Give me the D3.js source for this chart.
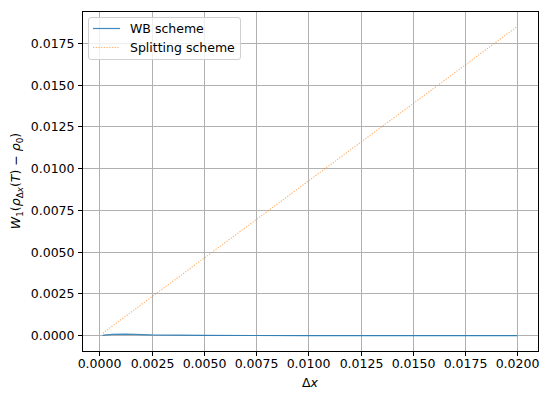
<!DOCTYPE html>
<html>
<head>
<meta charset="utf-8">
<script src="https://cdn.jsdelivr.net/npm/d3@7"></script>
<style>
  html, body { margin: 0; padding: 0; background: #fff; }
  svg { display: block; font-family: "DejaVu Sans", sans-serif; }
</style>
</head>
<body>
<svg id="chart" width="550" height="393"></svg>
<script>
// ---- data ----
const dx = [0.00015625, 0.0003125, 0.000625, 0.00125, 0.0025, 0.005, 0.01, 0.02];
const wbScheme = [0.00001, 0.00004, 0.00007, 0.00009, 0.00004, 0.00001, 0.000005, 0.000004];
const splittingScheme = [0.000145, 0.00029, 0.00058, 0.00116, 0.00232, 0.00463, 0.00926, 0.01852];
const xTicks = [0, 0.0025, 0.005, 0.0075, 0.01, 0.0125, 0.015, 0.0175, 0.02];
const yTicks = [0, 0.0025, 0.005, 0.0075, 0.01, 0.0125, 0.015, 0.0175];
const seriesNames = ["WB scheme", "Splitting scheme"];
const seriesColors = ["#1f77b4", "#ff7f0e"];

const svg = d3.select("#chart");
const L = 82, R = 538, T = 11, B = 351;
const FS = 12.5;

function padDomain(vals) {
  const mn = d3.min(vals), mx = d3.max(vals), m = (mx - mn) * 0.05;
  return [mn - m, mx + m];
}
const x = d3.scaleLinear().domain(padDomain(dx)).range([L, R]);
const y = d3.scaleLinear().domain(padDomain(wbScheme.concat(splittingScheme))).range([B, T]);

const px = v => Math.round(v) + 0.5;
const py = v => Math.floor(v) + 0.5;

// grid
const g = svg.append("g");
g.selectAll(".gx").data(xTicks).enter().append("line")
  .attr("x1", d => px(x(d))).attr("x2", d => px(x(d)))
  .attr("y1", T).attr("y2", B)
  .attr("stroke", "#b0b0b0").attr("stroke-width", 1);
g.selectAll(".gy").data(yTicks).enter().append("line")
  .attr("y1", d => py(y(d))).attr("y2", d => py(y(d)))
  .attr("x1", L).attr("x2", R)
  .attr("stroke", "#b0b0b0").attr("stroke-width", 1);

// lines
const line = d3.line().x((d, i) => x(dx[i])).y(d => y(d));
svg.append("path").datum(wbScheme)
  .attr("d", line).attr("fill", "none")
  .attr("stroke", seriesColors[0]).attr("stroke-width", 1.2).attr("stroke-opacity", 0.85);
svg.append("path").datum(splittingScheme)
  .attr("d", line).attr("fill", "none")
  .attr("stroke", seriesColors[1]).attr("stroke-width", 1.1).attr("stroke-opacity", 0.6)
  .attr("stroke-dasharray", "1.3,1.4");

// axes
const xAxis = d3.axisBottom(x).tickValues(xTicks).tickFormat(d3.format(".4f")).tickSize(4.5).tickPadding(3);
const yAxis = d3.axisLeft(y).tickValues(yTicks).tickFormat(d3.format(".4f")).tickSize(4.5).tickPadding(3.5);
const gx = svg.append("g").attr("transform", `translate(0,${B + 0.5})`).call(xAxis);
const gy = svg.append("g").attr("transform", `translate(${L + 0.5},0)`).call(yAxis);
[gx, gy].forEach(a => {
  a.select(".domain").remove();
  a.selectAll("text").attr("font-size", FS).attr("font-family", "DejaVu Sans").attr("fill", "#000");
  a.selectAll("line").attr("stroke", "#000").attr("stroke-width", 1);
});
gx.selectAll(".tick").attr("transform", d => `translate(${px(x(d))},0)`);
gy.selectAll(".tick").attr("transform", d => `translate(0,${py(y(d))})`);

// frame
svg.append("rect").attr("x", L + 0.5).attr("y", T + 0.5).attr("width", R - L).attr("height", B - T)
  .attr("fill", "none").attr("stroke", "#000").attr("stroke-width", 1);

// x label
svg.append("text").attr("x", (L + R) / 2).attr("y", 387).attr("text-anchor", "middle")
  .attr("font-size", FS)
  .call(t => { t.append("tspan").text("Δ"); t.append("tspan").attr("font-style", "italic").text("x"); });

// y label
const yl = svg.append("text").attr("transform", `translate(20,${(T + B) / 2}) rotate(-90)`)
  .attr("text-anchor", "middle").attr("font-size", FS);
yl.append("tspan").attr("font-style", "italic").text("W");
yl.append("tspan").attr("font-size", 8.8).attr("dy", 2.5).text("1");
yl.append("tspan").attr("dy", -2.5).text("(");
yl.append("tspan").attr("font-style", "italic").text("ρ");
yl.append("tspan").attr("font-size", 8.8).attr("dy", 2.5).text("Δ");
yl.append("tspan").attr("font-size", 8.8).attr("font-style", "italic").text("x");
yl.append("tspan").attr("dy", -2.5).text("(");
yl.append("tspan").attr("font-style", "italic").text("T");
yl.append("tspan").text(") − ");
yl.append("tspan").attr("font-style", "italic").text("ρ");
yl.append("tspan").attr("font-size", 8.8).attr("dy", 2.5).text("0");
yl.append("tspan").attr("dy", -2.5).text(")");

// legend
const lg = svg.append("g");
lg.append("rect").attr("x", 88.5).attr("y", 17.5).attr("width", 152).attr("height", 42).attr("rx", 2.5)
  .attr("fill", "#fff").attr("fill-opacity", 0.8).attr("stroke", "#d0d0d0").attr("stroke-width", 1);
seriesNames.forEach((name, i) => {
  const yy = 28.5 + i * 19;
  lg.append("line").attr("x1", 93).attr("x2", 120).attr("y1", yy).attr("y2", yy)
    .attr("stroke", seriesColors[i]).attr("stroke-width", i === 0 ? 1.2 : 1.1)
    .attr("stroke-opacity", i === 0 ? 0.85 : 0.6)
    .attr("stroke-dasharray", i === 0 ? null : "1.3,1.4");
  lg.append("text").attr("x", 130).attr("y", yy + 4.5).attr("font-size", FS).attr("fill", "#000").text(name);
});
</script>
</body>
</html>
